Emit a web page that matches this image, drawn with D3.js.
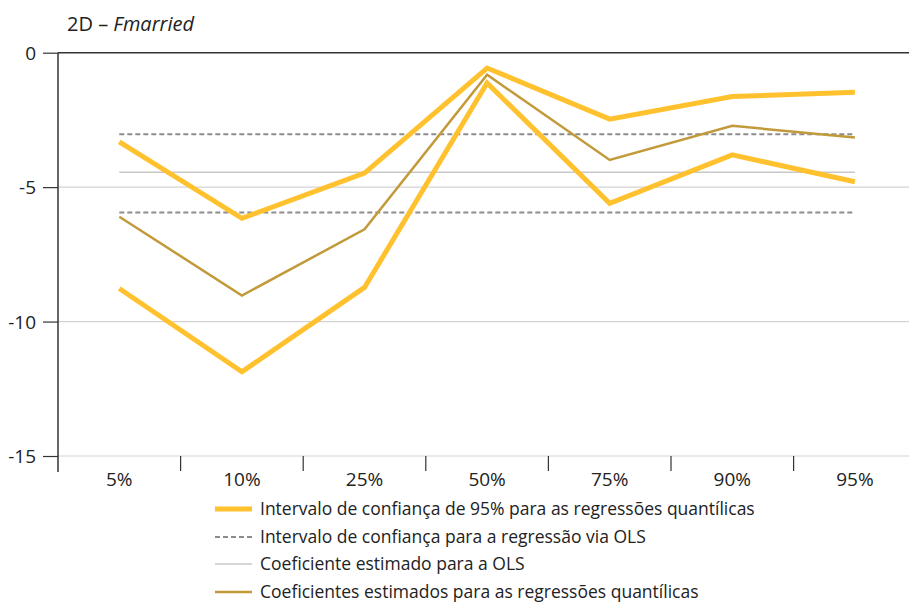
<!DOCTYPE html>
<html><head><meta charset="utf-8">
<script src="https://cdn.jsdelivr.net/npm/d3@7"></script>
<style>
body{margin:0;background:#fff;}
text{font-family:"Open Sans",sans-serif;fill:#222;}
</style></head>
<body>
<svg id="c" width="909" height="603"></svg>
<script>
const categories = ["5%","10%","25%","50%","75%","90%","95%"];
const ciUpper = [-3.32,-6.16,-4.48,-0.57,-2.47,-1.63,-1.47];
const ciLower = [-8.77,-11.87,-8.73,-1.13,-5.60,-3.80,-4.80];
const coefQR = [-6.10,-9.03,-6.57,-0.82,-3.99,-2.72,-3.15];
const olsUpper = -3.03;
const olsLower = -5.94;
const olsCoef = -4.45;
const yTicks = [0,-5,-10,-15];
const legendLabels = [
  "Intervalo de confiança de 95% para as regressões quantílicas",
  "Intervalo de confiança para a regressão via OLS",
  "Coeficiente estimado para a OLS",
  "Coeficientes estimados para as regressões quantílicas"
];

const svg = d3.select("#c");
const x = d3.scaleBand().domain(categories).range([58, 58 + 7*122.6]);
const xc = c => x(c) + x.bandwidth()/2;
const y = d3.scaleLinear().domain([-15, 0]).range([456, 52.7]);
const FS = "17.5px";
const TFS = "19px";

// gridlines
svg.append("g").selectAll("line").data(yTicks.filter(d=>d!==0)).join("line")
  .attr("x1",58).attr("x2",909).attr("y1",d=>y(d)).attr("y2",d=>y(d))
  .attr("stroke","#d3d3d3").attr("stroke-width",1.2);
// top zero line
svg.append("line").attr("x1",58).attr("x2",909).attr("y1",y(0)).attr("y2",y(0))
  .attr("stroke","#333").attr("stroke-width",1.5);

// y axis
const yAxis = d3.axisLeft(y).tickValues(yTicks).tickSize(15).tickPadding(7)
  .tickFormat(d => String(d));
const ga = svg.append("g").attr("transform","translate(58,0)").call(yAxis);
ga.select(".domain").remove();
ga.selectAll(".tick line").attr("stroke","#333").attr("stroke-width",1.2);
ga.selectAll(".tick text").style("font-family","Open Sans").style("font-size",TFS).attr("fill","#222").attr("dy","0.35em");
svg.append("line").attr("x1",58).attr("x2",58).attr("y1",y(0)).attr("y2",472)
  .attr("stroke","#333").attr("stroke-width",1.5);

// x axis ticks (band boundaries)
const bounds = categories.map(c=>x(c)).slice(1);
svg.append("g").selectAll("line").data(bounds).join("line")
  .attr("x1",d=>d).attr("x2",d=>d).attr("y1",456).attr("y2",471)
  .attr("stroke","#333").attr("stroke-width",1.2);
svg.append("g").selectAll("text").data(categories).join("text")
  .attr("x",d=>xc(d)).attr("y",486).attr("text-anchor","middle")
  .style("font-size",TFS).text(d=>d);

// OLS lines
const x0 = xc(categories[0]), x1 = xc(categories[categories.length-1]);
[olsUpper, olsLower].forEach(v=>{
  svg.append("line").attr("x1",x0).attr("x2",x1).attr("y1",y(v)).attr("y2",y(v))
    .attr("stroke","#8c8c8c").attr("stroke-width",2).attr("stroke-dasharray","5,3");
});
svg.append("line").attr("x1",x0).attr("x2",x1).attr("y1",y(olsCoef)).attr("y2",y(olsCoef))
  .attr("stroke","#c8c8c8").attr("stroke-width",1.5);

const line = d3.line().x((d,i)=>xc(categories[i])).y(d=>y(d));
[ciUpper, ciLower].forEach(s=>{
  svg.append("path").attr("d",line(s)).attr("fill","none")
    .attr("stroke","#FFC22E").attr("stroke-width",5).attr("stroke-linejoin","miter");
});
svg.append("path").attr("d",line(coefQR)).attr("fill","none")
  .attr("stroke","#C29A3A").attr("stroke-width",2.5);

// title
const t = svg.append("text").attr("x",67).attr("y",31).style("font-size","20px");
t.append("tspan").text("2D – ");
t.append("tspan").style("font-style","italic").text("Fmarried");

// legend
const legY = [509, 537, 564, 592];
const styles = [
  {stroke:"#FFC22E", w:5, dash:null},
  {stroke:"#8c8c8c", w:2, dash:"5,3"},
  {stroke:"#c8c8c8", w:1.5, dash:null},
  {stroke:"#C29A3A", w:2.5, dash:null}
];
legendLabels.forEach((lab,i)=>{
  const s = styles[i];
  const l = svg.append("line").attr("x1",215).attr("x2",252).attr("y1",legY[i]).attr("y2",legY[i])
    .attr("stroke",s.stroke).attr("stroke-width",s.w);
  if (s.dash) l.attr("stroke-dasharray",s.dash);
  svg.append("text").attr("x",260).attr("y",legY[i]).attr("dy","0.35em")
    .style("font-size",FS).text(lab);
});
</script>
</body></html>
